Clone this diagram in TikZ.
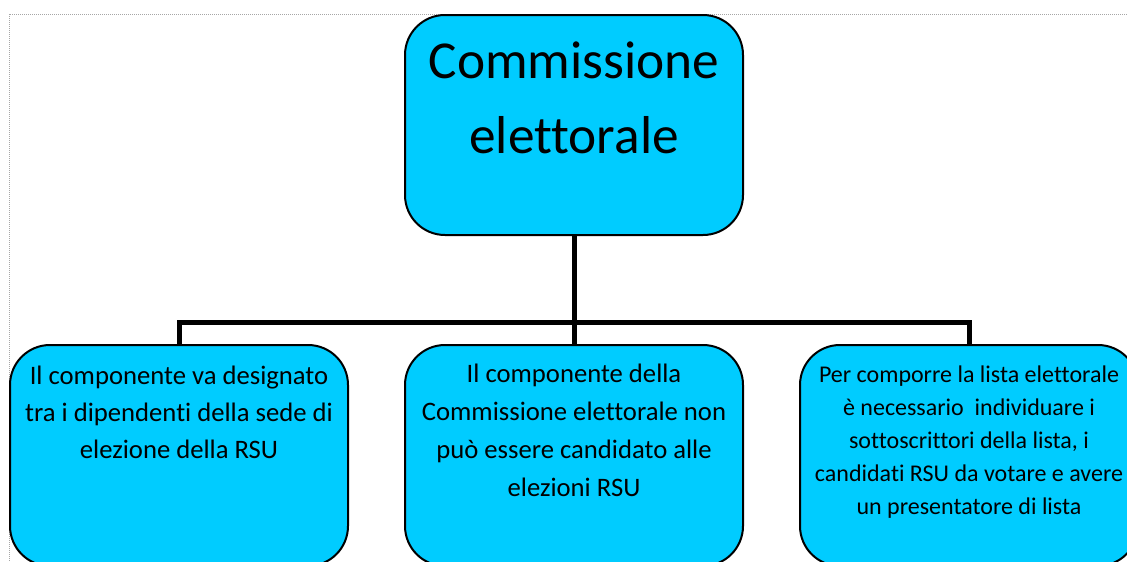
\documentclass[tikz,border=0pt]{standalone}
\usepackage{fontspec}
\setmainfont{Carlito}[Ligatures=CommonOff]
\usepackage{xcolor}
\definecolor{boxcyan}{HTML}{00CCFF}

\begin{document}
\begin{tikzpicture}[x = 0.75pt, y = -0.75pt,
bx/.style = {draw, line width = 1.5pt, fill = boxcyan, rounded corners = 30pt, minimum width = 253.5pt, inner sep = 0pt},
txt/.style = {anchor = north, align = center, inner sep = 0pt, font = \fontsize{20}{27.5}\selectfont},
cn/.style = {line width = 3.75pt, line join = miter}
]
\useasboundingbox (0,0) rectangle (1127,561);
\draw[densely dotted, gray!70, line width = 0.5pt] (9,575) -- (9,14) -- (1140,14);

\node[bx, minimum height = 165pt] (top) at (574,125) {};
\node[bx, minimum height = 165.75pt] (left) at (179,455.5) {};
\node[bx, minimum height = 165.75pt] (mid) at (574,455.5) {};
\node[bx, minimum height = 165.75pt] (right) at (969,455.5) {};

\node[txt, font = \fontsize{40}{56}\selectfont] (toptxt) at (574,42) {Commissione\\elettorale};
\node[txt] (lefttxt) at (179,366) {Il componente va designato\\tra i dipendenti della sede di\\elezione della RSU};
\node[txt, font = \fontsize{20}{28.5}\selectfont] (midtxt) at (574,364) {Il componente della\\Commissione elettorale non\\può essere candidato alle\\elezioni RSU};
\node[txt, font = \fontsize{18}{24.75}\selectfont] (righttxt) at (969,366) {Per comporre la lista elettorale\\è necessario\ \ individuare i\\sottoscrittori della lista, i\\candidati RSU da votare e avere\\un presentatore di lista};

\coordinate (bus) at (574,322);
\foreach \b in {left, mid, right}{\draw[cn] (top.south) -- (bus) -| (\b.north);}
\end{tikzpicture}
\end{document}
